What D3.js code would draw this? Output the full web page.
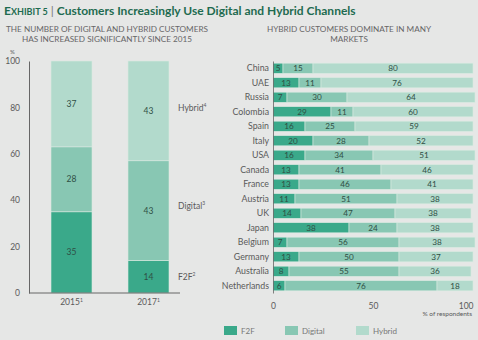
<!DOCTYPE html>
<html lang="en">
<head>
<meta charset="utf-8">
<title>Customers Increasingly Use Digital and Hybrid Channels</title>
<script src="https://cdn.jsdelivr.net/npm/d3@7"></script>
<style>
  body { margin: 0; background: #e6e7e6; }
  svg { display: block; font-family: Lato, "Open Sans", sans-serif; }
</style>
</head>
<body>
<script>
// ---- data ----
var channels = ["F2F", "Digital", "Hybrid"];
var channelColors = ["#3aa98a", "#88c7b3", "#b2dacc"];

var years = ["2015", "2017"];
var yearF2F = [35, 14];
var yearDigital = [28, 43];
var yearHybrid = [37, 43];

var countries = ["China", "UAE", "Russia", "Colombia", "Spain", "Italy", "USA", "Canada",
                 "France", "Austria", "UK", "Japan", "Belgium", "Germany", "Australia", "Netherlands"];
var countryF2F     = [5, 13, 7, 29, 16, 20, 16, 13, 13, 11, 14, 38, 7, 13, 8, 6];
var countryDigital = [15, 11, 30, 11, 25, 28, 34, 41, 46, 51, 47, 24, 56, 50, 55, 76];
var countryHybrid  = [80, 76, 64, 60, 59, 52, 51, 46, 41, 38, 38, 38, 38, 37, 36, 18];

var leftTicks = [0, 20, 40, 60, 80, 100];
var rightTicks = [0, 50, 100];

var W = 478, H = 340;
var svg = d3.select("body").append("svg").attr("width", W).attr("height", H);
svg.append("rect").attr("width", W).attr("height", H).attr("fill", "#e6e7e6");

var textCol = "#5a5a5a";
var labelCol = "#2f4f45";

// ---- title ----
var title = svg.append("text").attr("x", 4).attr("y", 15)
  .attr("fill", "#1e6b50").attr("font-weight", "bold").attr("font-size", 12);
title.append("tspan").text("E");
title.append("tspan").attr("font-size", 9).text("XHIBIT 5");
title.append("tspan").attr("font-weight", "normal").attr("fill", "#777").text(" | ");
title.append("tspan").text("Customers Increasingly Use Digital and Hybrid Channels");

function subtitle(x, lines) {
  lines.forEach(function (l, i) {
    svg.append("text").attr("x", x).attr("y", 32 + i * 9.5)
      .attr("text-anchor", "middle").attr("font-size", 8.2).attr("fill", "#666")
      .text(l);
  });
}
subtitle(107, ["THE NUMBER OF DIGITAL AND HYBRID CUSTOMERS", "HAS INCREASED SIGNIFICANTLY SINCE 2015"]);
subtitle(349, ["HYBRID CUSTOMERS DOMINATE IN MANY", "MARKETS"]);

// ---- left chart ----
var yearRows = years.map(function (y, i) {
  return { year: y, F2F: yearF2F[i], Digital: yearDigital[i], Hybrid: yearHybrid[i] };
});
var stackL = d3.stack().keys(channels)(yearRows);

var xL = d3.scalePoint().domain(years).range([71.5, 148.5]);
var barW = 41;
var yL = d3.scaleLinear().domain([0, 100]).range([293, 61]);

var color = d3.scaleOrdinal().domain(channels).range(channelColors);

var gL = svg.append("g");
stackL.forEach(function (layer) {
  gL.selectAll(null).data(layer).enter().append("rect")
    .attr("x", function (d) { return xL(d.data.year) - barW / 2; })
    .attr("y", function (d) { return yL(d[1]); })
    .attr("width", barW)
    .attr("height", function (d) { return yL(d[0]) - yL(d[1]); })
    .attr("fill", color(layer.key))
    .attr("stroke", "#d9e9e2").attr("stroke-width", 0.6);
  gL.selectAll(null).data(layer).enter().append("text")
    .attr("x", function (d) { return xL(d.data.year); })
    .attr("y", function (d) { return yL((d[0] + d[1]) / 2) + 3; })
    .attr("text-anchor", "middle").attr("font-size", 8.5).attr("fill", labelCol)
    .text(function (d) { return d[1] - d[0]; });
});

// y axis
var axL = svg.append("g").attr("transform", "translate(29,0)")
  .call(d3.axisLeft(yL).tickValues(leftTicks).tickSize(0).tickPadding(9));
axL.select(".domain").attr("stroke", "#666").attr("stroke-width", 1);
axL.selectAll("text").attr("font-size", 8.5).attr("fill", textCol).attr("font-family", "Lato, sans-serif");
svg.append("text").attr("x", 10).attr("y", 54).attr("font-size", 6).attr("fill", textCol).text("%");

// x baseline
svg.append("line").attr("x1", 29).attr("x2", 180).attr("y1", 293).attr("y2", 293)
  .attr("stroke", "#666").attr("stroke-width", 1);
years.forEach(function (y) {
  var t = svg.append("text").attr("x", xL(y)).attr("y", 305)
    .attr("text-anchor", "middle").attr("font-size", 8.5).attr("fill", textCol);
  t.append("tspan").text(y);
  t.append("tspan").attr("font-size", 5).attr("dy", -3.5).text("1");
});

// series labels beside the 2017 bar
var last = yearRows[1];
var seriesLabels = [
  { name: "Hybrid", sup: "4", at: last.F2F + last.Digital + last.Hybrid * 0.53 },
  { name: "Digital", sup: "3", at: last.F2F + last.Digital * 0.55 },
  { name: "F2F", sup: "2", at: last.F2F / 2 }
];
seriesLabels.forEach(function (s) {
  var t = svg.append("text").attr("x", 178).attr("y", yL(s.at) + 3)
    .attr("font-size", 8.5).attr("fill", textCol);
  t.append("tspan").text(s.name);
  t.append("tspan").attr("font-size", 5).attr("dy", -3.5).text(s.sup);
});

// ---- right chart ----
var countryRows = countries.map(function (c, i) {
  return { country: c, F2F: countryF2F[i], Digital: countryDigital[i], Hybrid: countryHybrid[i] };
});
var stackR = d3.stack().keys(channels)(countryRows);

var xR = d3.scaleLinear().domain([0, 100]).range([273, 473]);
var yR = d3.scaleBand().domain(countries).range([61, 293]).paddingInner(0.3).paddingOuter(0.15);

var gR = svg.append("g");
stackR.forEach(function (layer) {
  gR.selectAll(null).data(layer).enter().append("rect")
    .attr("x", function (d) { return xR(d[0]); })
    .attr("y", function (d) { return yR(d.data.country); })
    .attr("width", function (d) { return xR(d[1]) - xR(d[0]); })
    .attr("height", yR.bandwidth())
    .attr("fill", color(layer.key))
    .attr("stroke", "#d9e9e2").attr("stroke-width", 0.6);
  gR.selectAll(null).data(layer).enter().append("text")
    .attr("x", function (d) { return xR((d[0] + d[1]) / 2); })
    .attr("y", function (d) { return yR(d.data.country) + yR.bandwidth() / 2 + 3; })
    .attr("text-anchor", "middle").attr("font-size", 8.2).attr("fill", labelCol)
    .text(function (d) { return d[1] - d[0]; });
});

var axY = svg.append("g").attr("transform", "translate(273,0)")
  .call(d3.axisLeft(yR).tickSize(0).tickPadding(4));
axY.select(".domain").attr("stroke", "#666").attr("stroke-width", 0.8);
axY.selectAll("text").attr("font-size", 8.8).attr("fill", textCol).attr("font-family", "Lato, sans-serif");

var axX = svg.append("g").attr("transform", "translate(0,293)")
  .call(d3.axisBottom(xR).tickValues(rightTicks).tickSize(0).tickPadding(10));
axX.select(".domain").remove();
axX.selectAll("text").attr("font-size", 8.5).attr("fill", textCol).attr("font-family", "Lato, sans-serif")
  .attr("text-anchor", function (d) { return d === 100 ? "end" : "middle"; });
svg.append("text").attr("x", 472).attr("y", 316).attr("text-anchor", "end")
  .attr("font-size", 6.5).attr("fill", textCol).text("% of respondents");

// ---- legend ----
var legendX = [224, 285, 356];
channels.forEach(function (c, i) {
  svg.append("rect").attr("x", legendX[i]).attr("y", 326).attr("width", 13).attr("height", 9)
    .attr("fill", color(c));
  svg.append("text").attr("x", legendX[i] + 17).attr("y", 334)
    .attr("font-size", 8).attr("fill", "#777").text(c);
});
</script>
</body>
</html>
